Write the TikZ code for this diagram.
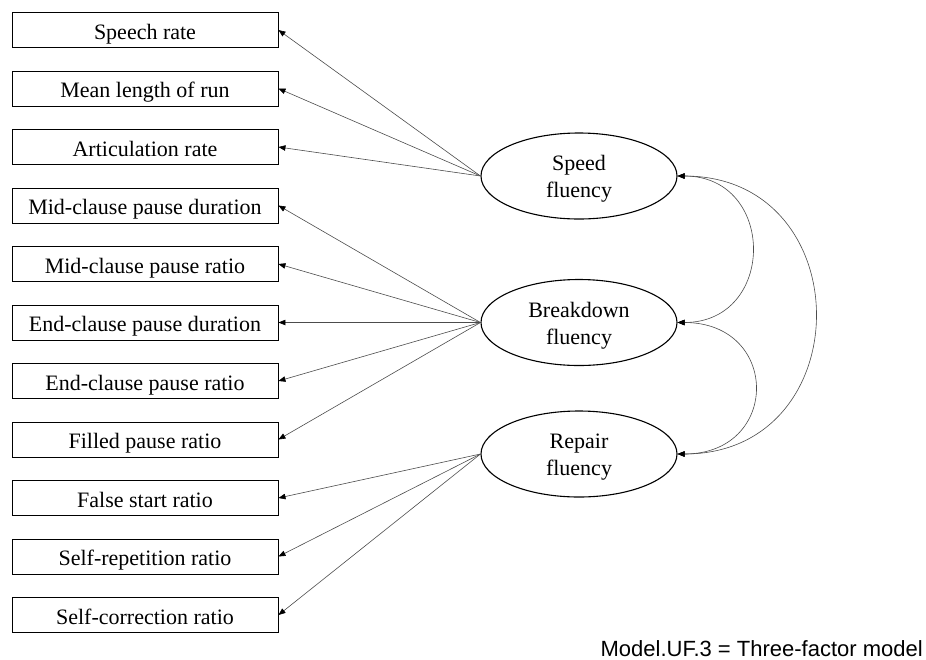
\documentclass[tikz,border=0pt]{standalone}
\usepackage{fontspec}
\setmainfont{Liberation Serif}
\newfontfamily\capfont{Liberation Sans}
\usetikzlibrary{shapes.geometric,arrows.meta}
\begin{document}
\begin{tikzpicture}[x=1pt,y=-1pt,
  indicator/.style={draw=black,line width=0.9pt,minimum width=266pt,
    inner xsep=0pt,inner ysep=6.8pt,text height=20pt,text depth=1.4pt,
    font=\fontsize{22}{26}\selectfont},
  factor/.style={ellipse,draw=black,line width=1.1pt,minimum width=196pt,
    minimum height=86pt,inner sep=0pt},
  factortext/.style={inner sep=0pt,align=center,font=\fontsize{22}{27}\selectfont},
  load/.style={line width=0.6pt,draw=black!70,-{Triangle[length=7pt,width=5.5pt,color=black]}},
  cov/.style={line width=0.6pt,draw=black!70,
    {Triangle[length=7pt,width=5.5pt,color=black]}-{Triangle[length=7pt,width=5.5pt,color=black]}}
]
\useasboundingbox (0,0) rectangle (926,659);

% observed indicators
\foreach \lbl [count=\i from 0] in {Speech rate,Mean length of run,Articulation rate,
  Mid-clause pause duration,Mid-clause pause ratio,End-clause pause duration,
  End-clause pause ratio,Filled pause ratio,False start ratio,
  Self-repetition ratio,Self-correction ratio}
  \node[indicator] (m\i) at (145,{30+58.5*\i}) {\lbl};

% latent factors
\node[factor] (speed) at (579,176) {};
\node[factor] (brk) at (579,322.5) {};
\node[factor] (rep) at (579,454) {};
\node[factortext] (speedtxt) at (579,179) {Speed\\fluency};
\node[factortext] (brktxt) at (579,325.5) {Breakdown\\fluency};
\node[factortext] (reptxt) at (579,457) {Repair\\fluency};

% factor loadings
\foreach \i in {0,1,2} \draw[load] (speed.west) -- (m\i.east);
\foreach \i in {3,...,7} \draw[load] (brk.west) -- (m\i.east);
\foreach \i in {8,9,10} \draw[load] (rep.west) -- (m\i.east);

% factor covariances
\draw[cov] (speed.east) .. controls +(99,0) and +(99,0) .. (brk.east);
\draw[cov] (brk.east) .. controls +(103,0) and +(103,0) .. (rep.east);
\draw[cov] (speed.east) .. controls +(183,0) and +(183,0) .. (rep.east);

% model caption
\node[anchor=base east,inner sep=0pt,font=\capfont\fontsize{22}{26}\selectfont]
  (cap) at (923,656.5) {Model.UF.3 = Three-factor model};
\end{tikzpicture}
\end{document}
